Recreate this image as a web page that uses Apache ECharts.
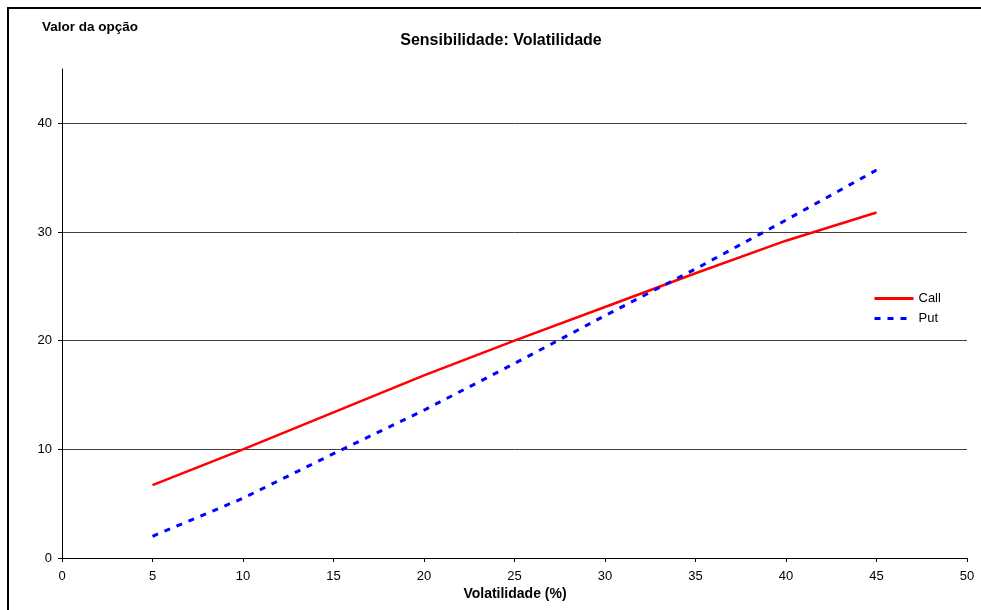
<!DOCTYPE html>
<html>
<head>
<meta charset="utf-8">
<script src="https://cdn.jsdelivr.net/npm/echarts@6/dist/echarts.min.js"></script>
<style>html,body{margin:0;padding:0;background:#fff;}#c{width:981px;height:610px;}</style>
</head>
<body>
<div id="c"></div>
<script>
var volatility = [5, 10, 15, 20, 25, 30, 35, 40, 45];
var callValues = [6.7, 10.0, 13.4, 16.8, 20.0, 23.1, 26.2, 29.2, 31.8];
var putValues = [2.0, 5.5, 9.6, 13.6, 17.9, 22.3, 26.6, 31.1, 35.7];
var seriesNames = ['Call', 'Put'];
var titleText = 'Sensibilidade: Volatilidade';
var yAxisTitle = 'Valor da opção';
var xAxisTitle = 'Volatilidade (%)';

function pairs(xs, ys){ return xs.map(function(x,i){ return [x, ys[i]]; }); }
var FONT = '"Liberation Sans", Arial, sans-serif';
var chart = echarts.init(document.getElementById('c'));
chart.setOption({
  animation: false,
  backgroundColor: '#fff',
  textStyle: { fontFamily: FONT },
  grid: { left: 62, right: 14, top: 69, bottom: 52 },
  graphic: [
    { type: 'rect', shape: { x: 8, y: 8, width: 1100, height: 800 }, style: { fill: null, stroke: '#000', lineWidth: 2 }, z: 100 },
    { type: 'text', style: { text: titleText, x: 501, y: 41, textAlign: 'center', textVerticalAlign: 'middle', font: 'bold 16px ' + FONT, fill: '#000' } },
    { type: 'text', style: { text: yAxisTitle, x: 42, y: 27, textAlign: 'left', textVerticalAlign: 'middle', font: 'bold 13.5px ' + FONT, fill: '#000' } },
    { type: 'text', style: { text: xAxisTitle, x: 515, y: 594, textAlign: 'center', textVerticalAlign: 'middle', font: 'bold 14px ' + FONT, fill: '#000' } }
  ],
  legend: {
    orient: 'vertical', left: 873, top: 292, padding: 0, itemWidth: 39, itemHeight: 14, itemGap: 7,
    textStyle: { fontSize: 13, color: '#000', fontFamily: FONT },
    itemStyle: { opacity: 0 },
    lineStyle: { width: 3 },
    data: seriesNames
  },
  xAxis: {
    type: 'value', min: 0, max: 50, interval: 5,
    axisLine: { lineStyle: { color: '#000', width: 1 } },
    axisTick: { show: true, inside: false, length: 4, lineStyle: { color: '#000' } },
    axisLabel: { color: '#000', fontSize: 13, margin: 12, fontFamily: FONT },
    splitLine: { show: false }
  },
  yAxis: {
    type: 'value', min: 0, max: 45, interval: 10,
    axisLine: { show: true, lineStyle: { color: '#000', width: 1 } },
    axisTick: { show: true, inside: false, length: 4, lineStyle: { color: '#000' } },
    axisLabel: { color: '#000', fontSize: 13, margin: 10, fontFamily: FONT, showMaxLabel: false },
    splitLine: { show: true, showMaxLine: false, lineStyle: { color: '#404040', width: 1 } }
  },
  series: [
    { name: seriesNames[0], type: 'line', data: pairs(volatility, callValues), symbol: 'none',
      lineStyle: { color: '#ff0000', width: 2.5, type: 'solid' }, itemStyle: { color: '#ff0000' } },
    { name: seriesNames[1], type: 'line', data: pairs(volatility, putValues), symbol: 'none',
      lineStyle: { color: '#0000ff', width: 3, type: [6, 7] }, itemStyle: { color: '#0000ff' } }
  ]
});
</script>
</body>
</html>
